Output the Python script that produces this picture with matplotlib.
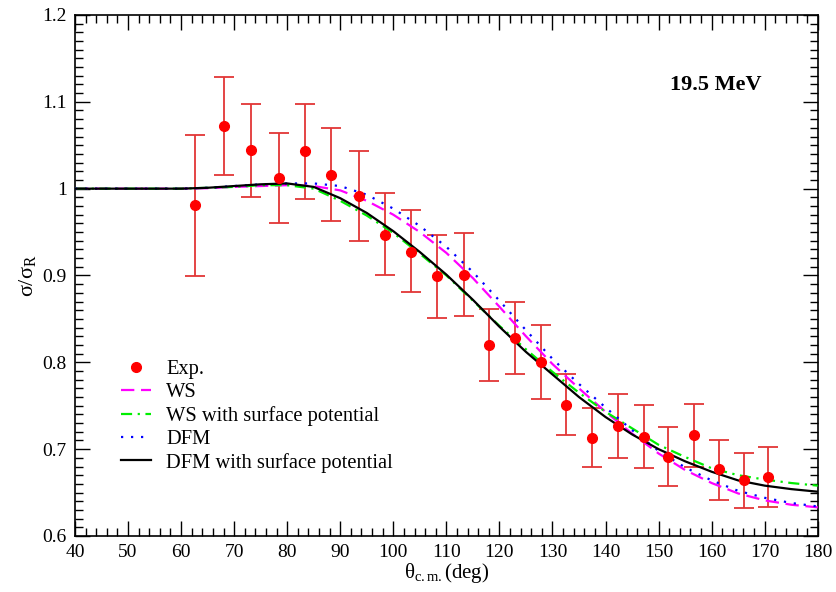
import matplotlib
matplotlib.use("Agg")
import matplotlib.pyplot as plt
from matplotlib.ticker import MultipleLocator, FormatStrFormatter

plt.rcParams['font.family'] = ['Liberation Serif', 'DejaVu Serif']
plt.rcParams['mathtext.fontset'] = 'custom'
plt.rcParams['mathtext.rm'] = 'Liberation Serif'
plt.rcParams['mathtext.it'] = 'Liberation Serif:italic'

# Experimental data (angle in deg, ratio, error-bar limits)
exp_theta = [62.7, 68.1, 73.2, 78.5, 83.4, 88.3, 93.5, 98.4, 103.3, 108.2, 113.4,
             118.1, 123.0, 127.9, 132.6, 137.5, 142.4, 147.2, 151.8, 156.7, 161.4,
             166.1, 170.6]
exp_ratio = [0.981, 1.072, 1.044, 1.012, 1.043, 1.016, 0.991, 0.947, 0.927, 0.899,
             0.901, 0.820, 0.828, 0.800, 0.751, 0.713, 0.727, 0.714, 0.691, 0.716,
             0.677, 0.665, 0.668]
exp_upper = [1.062, 1.129, 1.098, 1.064, 1.097, 1.070, 1.043, 0.995, 0.975, 0.947,
             0.949, 0.861, 0.869, 0.843, 0.787, 0.747, 0.763, 0.751, 0.726, 0.752,
             0.711, 0.696, 0.703]
exp_lower = [0.899, 1.016, 0.990, 0.960, 0.988, 0.963, 0.940, 0.901, 0.881, 0.851,
             0.853, 0.779, 0.787, 0.758, 0.716, 0.680, 0.690, 0.678, 0.657, 0.680,
             0.642, 0.632, 0.633]

# Calculated curves
theta = [40, 50, 60, 65, 70, 75, 80, 85, 90, 95, 100, 105, 110, 115, 120, 125,
         130, 135, 140, 145, 150, 155, 160, 165, 170, 175, 180]
ws = [1.000, 1.000, 1.000, 1.0005, 1.002, 1.003, 1.004, 1.003, 0.998, 0.986, 0.970,
      0.950, 0.926, 0.897, 0.864, 0.830, 0.798, 0.770, 0.743, 0.718, 0.695, 0.676,
      0.661, 0.649, 0.641, 0.636, 0.633]
ws_surf = [1.000, 1.000, 1.000, 1.001, 1.002, 1.004, 1.004, 1.000, 0.986, 0.969,
           0.949, 0.925, 0.900, 0.871, 0.842, 0.815, 0.789, 0.765, 0.743, 0.724,
           0.705, 0.691, 0.678, 0.670, 0.665, 0.661, 0.658]
dfm = [1.000, 1.000, 1.000, 1.001, 1.003, 1.005, 1.006, 1.006, 1.003, 0.993, 0.977,
       0.957, 0.933, 0.904, 0.871, 0.837, 0.804, 0.775, 0.748, 0.722, 0.698, 0.679,
       0.664, 0.652, 0.644, 0.638, 0.634]
dfm_surf = [1.000, 1.000, 1.000, 1.001, 1.003, 1.005, 1.006, 1.002, 0.989, 0.972,
            0.951, 0.927, 0.901, 0.872, 0.841, 0.812, 0.786, 0.760, 0.737, 0.717,
            0.700, 0.686, 0.674, 0.664, 0.658, 0.654, 0.651]

fig = plt.figure(figsize=(8.37, 5.92), dpi=100)
ax = fig.add_axes([0.0896, 0.0946, 0.8874, 0.8801])

# error bars without legend entry
yerr = [[r - lo for r, lo in zip(exp_ratio, exp_lower)],
        [up - r for r, up in zip(exp_ratio, exp_upper)]]
ax.errorbar(exp_theta, exp_ratio, yerr=yerr, fmt='none', ecolor='#e23636',
            elinewidth=1.3, capsize=7, capthick=1.3, zorder=2)
ax.plot(exp_theta, exp_ratio, 'o', color='#ff0000', markersize=7, label='Exp.', zorder=5)

ax.plot(theta, ws, color='#ff00ff', lw=1.6, dashes=(6, 3), label='WS', zorder=3)
ax.plot(theta, ws_surf, color='#00ee00', lw=1.6, dashes=(5, 2.5, 1, 2.5),
        label='WS with surface potential', zorder=3)
ax.plot(theta, dfm, color='#0000ff', lw=1.6, dashes=(1, 3.5), label='DFM', zorder=3)
ax.plot(theta, dfm_surf, color='black', lw=1.6, label='DFM with surface potential', zorder=4)

ax.set_xlim(40, 180)
ax.set_ylim(0.6, 1.2)
ax.xaxis.set_major_locator(MultipleLocator(10))
ax.xaxis.set_minor_locator(MultipleLocator(2))
ax.yaxis.set_major_locator(MultipleLocator(0.1))
ax.yaxis.set_minor_locator(MultipleLocator(0.01))
ax.yaxis.set_major_formatter(FormatStrFormatter('%g'))
ax.tick_params(which='both', direction='in', top=True, right=True, labelsize=14, pad=6)
ax.tick_params(which='major', length=11, width=1)
ax.tick_params(which='minor', length=5.5, width=1)
for s in ax.spines.values():
    s.set_linewidth(1.2)

ax.set_xlabel(r'$\mathrm{\theta_{c.m.}(deg)}$', fontsize=15, labelpad=0)
ax.set_ylabel(r'$\mathrm{\sigma/\sigma_R}$', fontsize=16, labelpad=3)

ax.text(0.924, 0.865, '19.5 MeV', transform=ax.transAxes, fontsize=16,
        fontweight='bold', ha='right', va='center')

ax.legend(loc='upper left', bbox_to_anchor=(0.048, 0.358), frameon=False, fontsize=14.8,
          handlelength=1.45, handletextpad=0.75, labelspacing=0.18, borderpad=0,
          numpoints=1)

fig.savefig('out.png', dpi=100)
